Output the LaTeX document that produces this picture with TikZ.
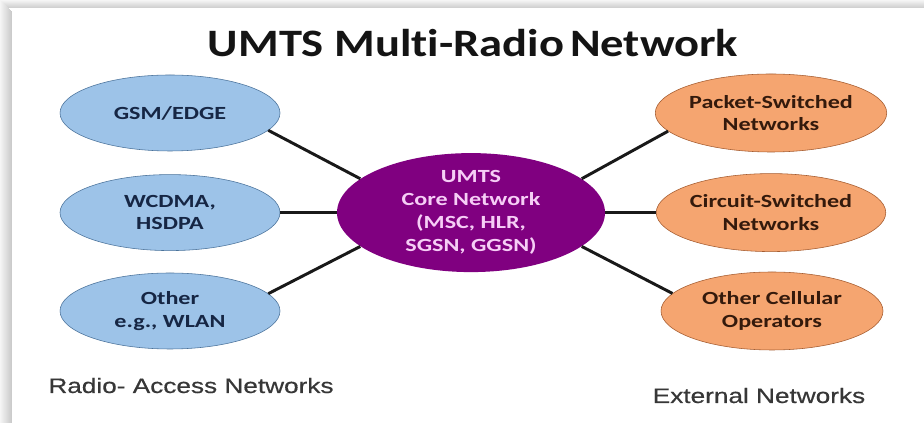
\documentclass[tikz,border=0pt]{standalone}
\usepackage{fontspec}
\setmainfont{Carlito}
\newfontfamily\nodefont[FakeStretch=1.3, Ligatures=NoCommon]{Carlito}
\newfontfamily\titlefont[FakeStretch=1.2, Ligatures=NoCommon]{Carlito}
\newfontfamily\captionfont[FakeStretch=1.25, FakeBold=0.5]{Liberation Sans}
\usepackage{xcolor}
\usetikzlibrary{shapes.geometric}
\definecolor{radioblue}{RGB}{157,195,232}
\definecolor{radioedge}{RGB}{75,115,155}
\definecolor{radiotext}{RGB}{22,38,68}
\definecolor{corepurple}{RGB}{128,0,128}
\definecolor{coretext}{RGB}{246,206,246}
\definecolor{extorange}{RGB}{245,165,112}
\definecolor{extedge}{RGB}{165,92,48}
\definecolor{exttext}{RGB}{52,26,12}
\definecolor{captiongray}{RGB}{55,55,55}
\tikzset{
	net/.style={ellipse, inner sep=0pt, align=center,
			font=\nodefont\bfseries\fontsize{13.2}{16}\selectfont},
	radio/.style={net, draw=radioedge, fill=radioblue, text=radiotext,
			minimum width=5.5cm, minimum height=1.9cm},
	core/.style={net, fill=corepurple, text=coretext,
			minimum width=6.7cm, minimum height=2.45cm,
			font=\nodefont\bfseries\fontsize{13.2}{16.4}\selectfont},
	external/.style={net, draw=extedge, fill=extorange, text=exttext,
			minimum width=5.55cm, minimum height=1.95cm},
	link/.style={line width=2.1pt, black!90},
	caption/.style={anchor=base, text=captiongray,
			font=\captionfont\fontsize{14.9}{18}\selectfont}
}

\begin{document}
\begin{tikzpicture}
	\useasboundingbox (0,0) rectangle (23.1,10.575);
	\fill[white] (0,0) rectangle (23.1,10.575);

	% Frame shadow
	\foreach \i in {0,...,7}
		\fill[gray!\the\numexpr 8+4*\i\relax] (0,10.575-0.025*\i) rectangle (23.1,10.55-0.025*\i);
	\foreach \i in {0,...,11}
		\fill[gray!\the\numexpr 8+3*\i\relax] (0.025*\i,0) rectangle (0.025*\i+0.025,10.575-0.025*\i);

	% Title
	\node[anchor=base, text=black!92, font=\titlefont\bfseries\fontsize{27.6}{32}\selectfont]
		(title) at (11.825,9.15) {UMTS Multi-Radio\hspace{-0.12em} Network};

	% Radio access networks
	\node[radio] (gsm) at (4.25,7.75) {GSM/EDGE};
	\node[radio] (wcdma) at (4.25,5.26) {WCDMA,\\HSDPA};
	\node[radio] (wlan) at (4.25,2.8) {Other\\e.g., WLAN};

	% Core network
	\node[core] (umts) at (11.775,5.26) {UMTS\\Core Network\\(MSC, HLR,\\SGSN, GGSN)};

	% External networks
	\node[external] (packet) at (19.275,7.75) {Packet-Switched\\Networks};
	\node[external] (circuit) at (19.275,5.26) {Circuit-Switched\\Networks};
	\node[external] (cellular) at (19.3,2.8) {Other Cellular\\Operators};

	% Links
	\draw[link] (gsm.-10) -- (umts.163);
	\draw[link] (wcdma.east) -- (umts.west);
	\draw[link] (wlan.10) -- (umts.197);
	\draw[link] (umts.17) -- (packet.190);
	\draw[link] (umts.east) -- (circuit.west);
	\draw[link] (umts.-17) -- (cellular.170);

	% Captions
	\node[caption] (radiolabel) at (4.775,0.75) {Radio- Access Networks};
	\node[caption] (externallabel) at (18.975,0.5) {External Networks};
\end{tikzpicture}
\end{document}
